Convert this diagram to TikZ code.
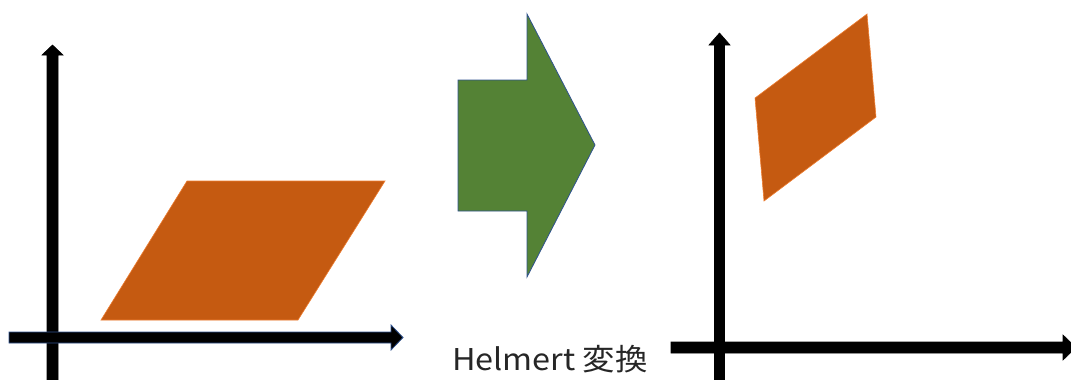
\documentclass[tikz,border=0pt]{standalone}
\usepackage{fontspec}
\newfontfamily\jpfont{Noto Sans CJK JP}
\definecolor{shapeorange}{HTML}{C55A11}
\definecolor{shapeorangeedge}{HTML}{ED7D31}
\definecolor{arrowgreen}{HTML}{548235}
\definecolor{edgeblue}{HTML}{2F528F}
\tikzset{
  axisshape/.style={fill=black, draw=black, line width=0.6pt, line join=miter},
  axisblue/.style={fill=black, draw=edgeblue, line width=0.8pt, line join=miter},
  quad/.style={fill=shapeorange, draw=shapeorangeedge, line width=0.6pt, line join=miter},
  bigarrow/.style={fill=arrowgreen, draw=edgeblue, line width=0.8pt, line join=miter},
  caption/.style={font=\jpfont\fontsize{30}{36}\selectfont, text=black!85, inner sep=0pt, anchor=base, xscale=1.08, transform shape}
}
\begin{document}
\begin{tikzpicture}[x=1pt,y=-1pt]
\useasboundingbox (0,0) rectangle (1071,380);
% ---- left panel ----
% vertical axis
\path[axisshape] (47,390) -- (47,55) -- (42,55) -- (52.5,45) -- (63,55) -- (58,55) -- (58,390) -- cycle;
% horizontal axis
\path[axisblue] (9,332) -- (391,332) -- (391,325) -- (403,337.5) -- (391,350) -- (391,343) -- (9,343) -- cycle;
% parallelogram
\path[quad] (187,181) -- (385,181) -- (298,320) -- (101,320) -- cycle;
% ---- green arrow ----
\path[bigarrow] (458,80) -- (527,80) -- (527,14) -- (595,145) -- (527,277) -- (527,211) -- (458,211) -- cycle;
% ---- caption ----
\node[caption] (lbl) at (550,370) {Helmert 変換};
% ---- right panel ----
\path[axisshape] (714.5,390) -- (714.5,45) -- (709,45) -- (719.5,33) -- (730,45) -- (724.5,45) -- (724.5,390) -- cycle;
\path[axisshape] (671,342) -- (1063,342) -- (1063,335) -- (1076,347.5) -- (1063,360) -- (1063,353) -- (671,353) -- cycle;
\path[quad] (755,98) -- (867,14) -- (876,117) -- (764,201) -- cycle;
\end{tikzpicture}
\end{document}
